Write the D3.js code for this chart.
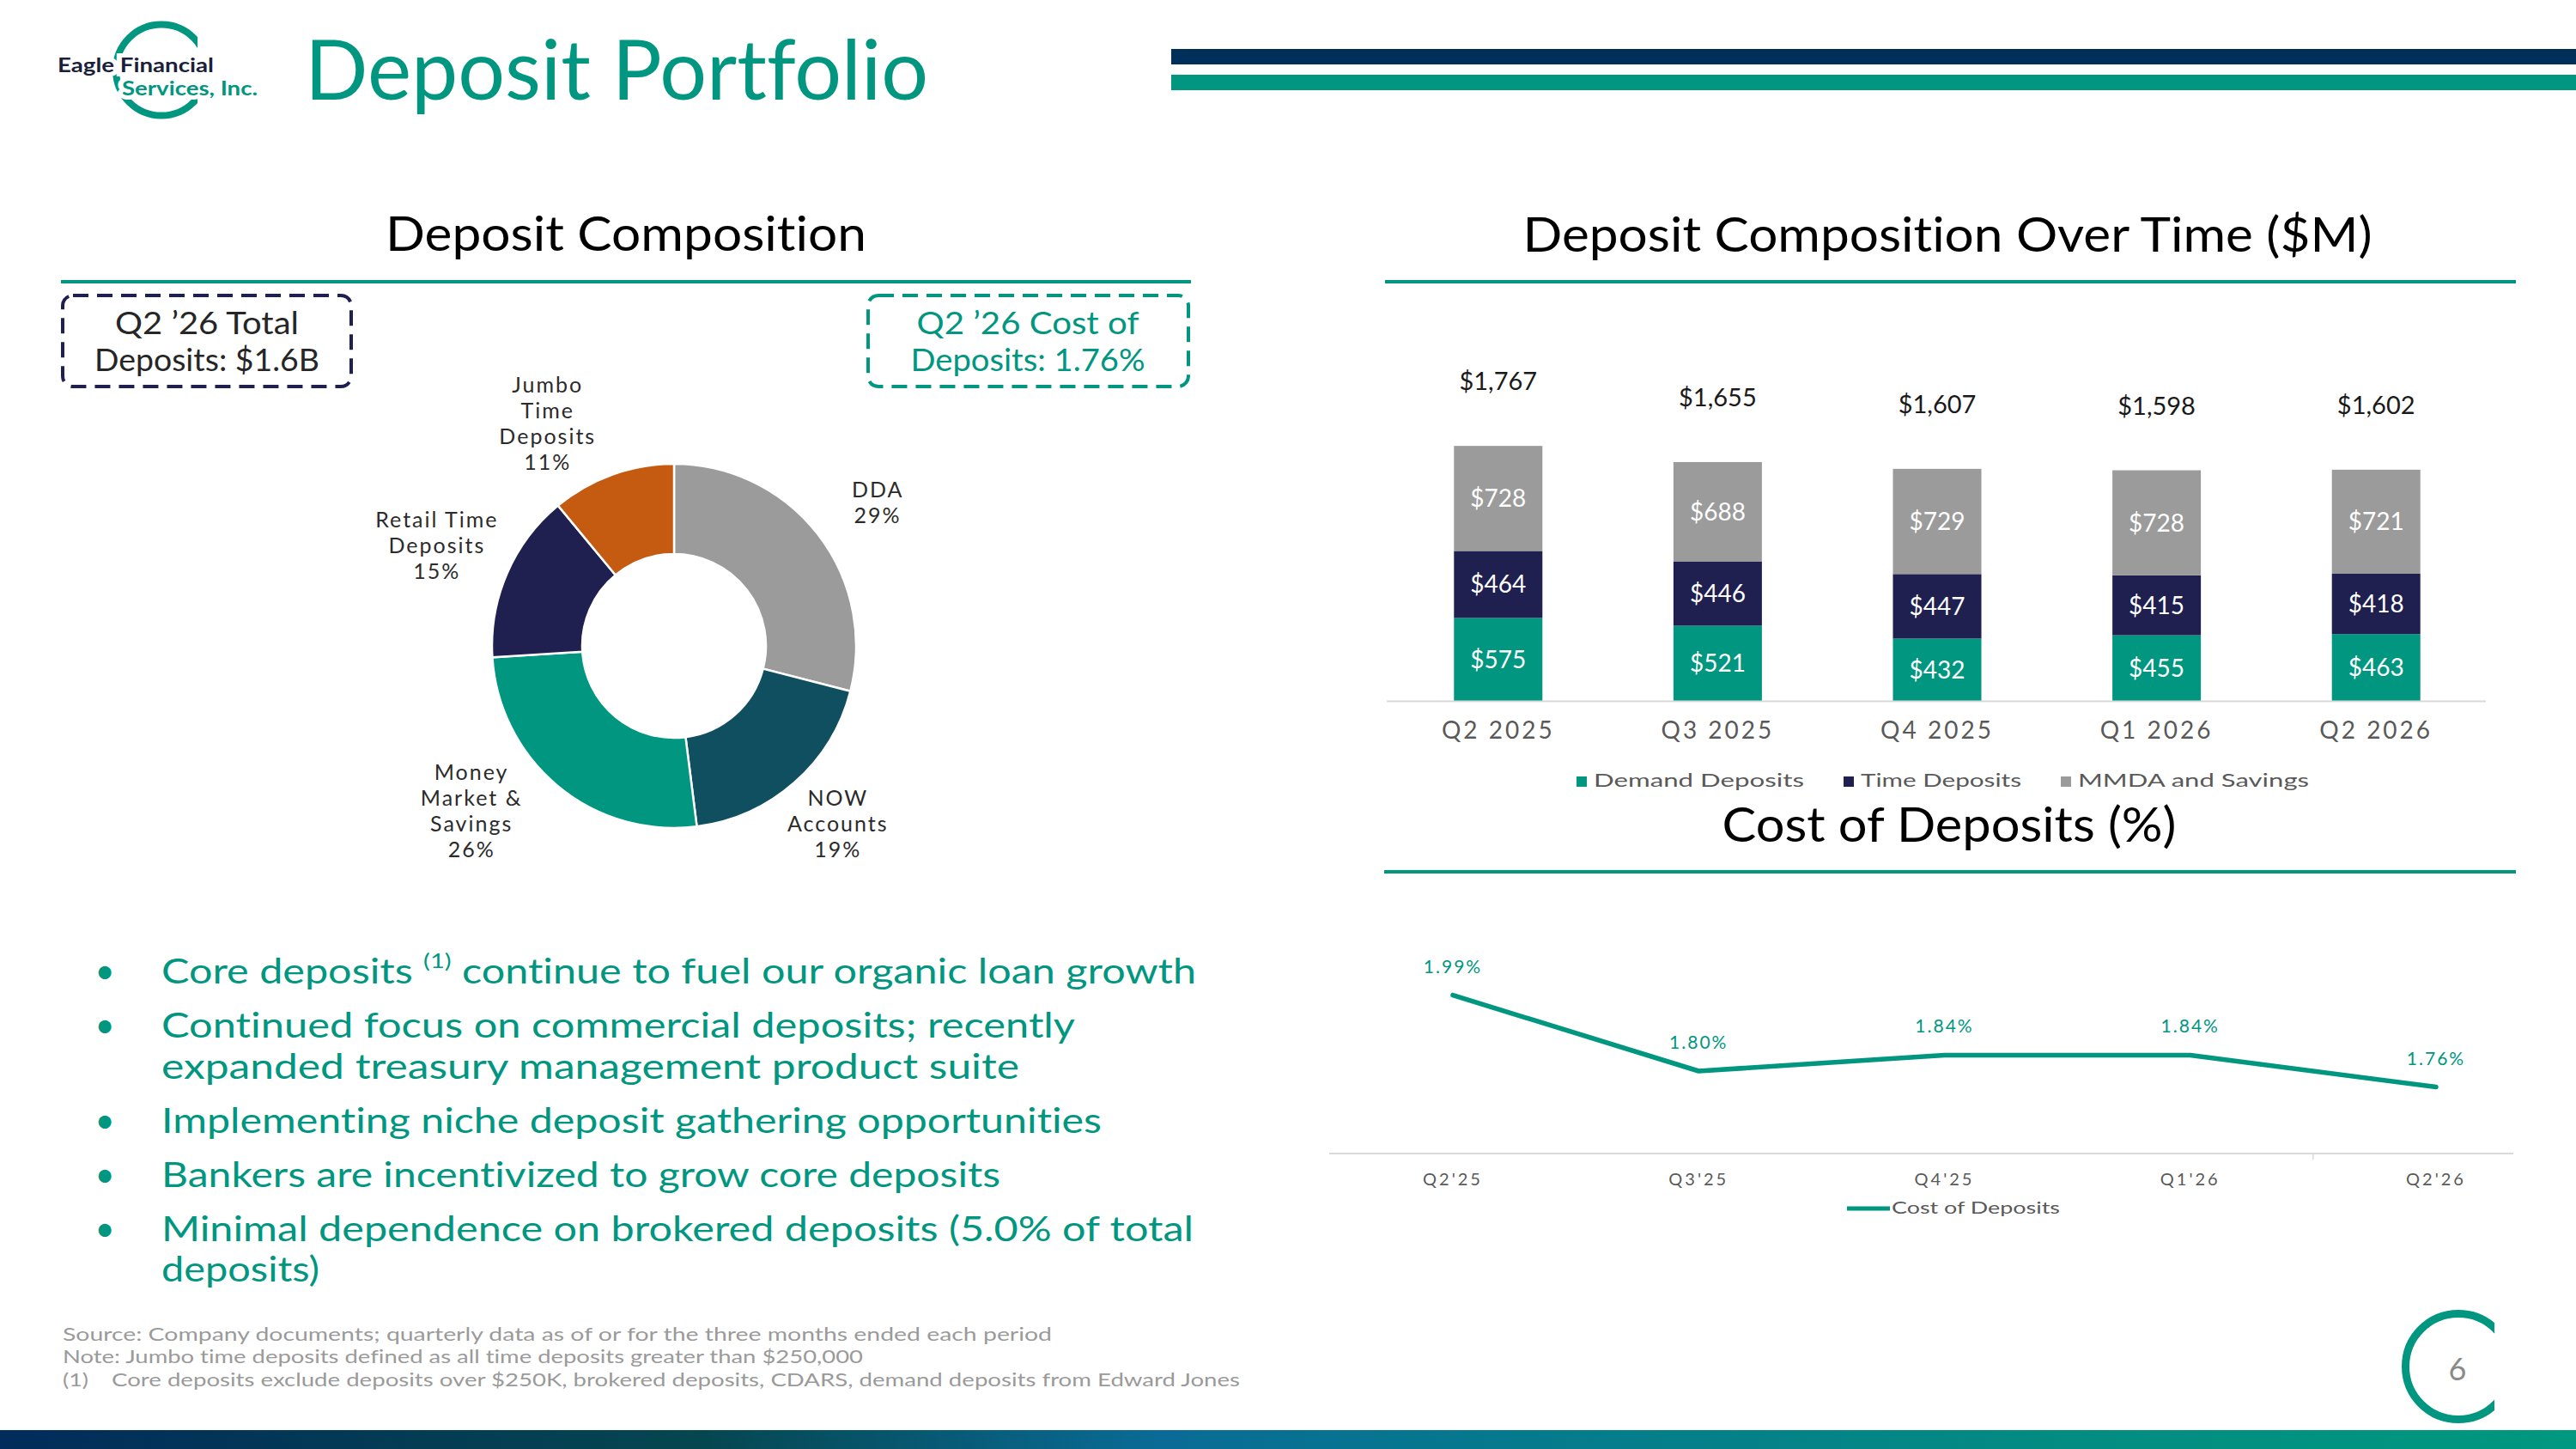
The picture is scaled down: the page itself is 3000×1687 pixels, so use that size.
<!DOCTYPE html>
<html>
<head>
<meta charset="utf-8">
<script src="https://d3js.org/d3.v7.min.js"></script>
<style>
  body { margin: 0; background: #fff; }
  text { font-family: Lato, "Open Sans", sans-serif; font-variant-ligatures: none; }
</style>
</head>
<body>
<svg id="slide" width="3000" height="1687"></svg>
<script>

// ---- data ----
const mixCats = ["DDA", "NOW Accounts", "Money Market & Savings", "Retail Time Deposits", "Jumbo Time Deposits"]
const mixLines = [["DDA"], ["NOW", "Accounts"], ["Money", "Market &", "Savings"], ["Retail Time", "Deposits"], ["Jumbo", "Time", "Deposits"]]
const mixPct = [29, 19, 26, 15, 11]
const mixColors = ["#9b9b9b", "#0f4f5f", "#00967f", "#1f2050", "#c55a11"]

const quarters = ["Q2 2025", "Q3 2025", "Q4 2025", "Q1 2026", "Q2 2026"]
const demand = [575, 521, 432, 455, 463]
const timeDep = [464, 446, 447, 415, 418]
const mmda = [728, 688, 729, 728, 721]
const totals = [1767, 1655, 1607, 1598, 1602]
const seriesNames = ["Demand Deposits", "Time Deposits", "MMDA and Savings"]
const seriesColors = ["#00967f", "#1f2050", "#9b9b9b"]

const costQuarters = ["Q2'25", "Q3'25", "Q4'25", "Q1'26", "Q2'26"]
const cost = [1.99, 1.80, 1.84, 1.84, 1.76]

const bullets = [
    ["Core deposits ", "(1)", " continue to fuel our organic loan growth"],
    ["Continued focus on commercial deposits; recently", "expanded treasury management product suite"],
    ["Implementing niche deposit gathering opportunities"],
    ["Bankers are incentivized to grow core deposits"],
    ["Minimal dependence on brokered deposits (5.0% of total", "deposits)"]
]
const notes = [
    "Source: Company documents; quarterly data as of or for the three months ended each period",
    "Note: Jumbo time deposits defined as all time deposits greater than $250,000",
    "Core deposits exclude deposits over $250K, brokered deposits, CDARS, demand deposits from Edward Jones"
]

const teal = "#00967f"
const navy = "#1f2050"

const svg = d3.select("#slide")

function put(parent, str, x, y, size, fill, opts = {}) {
    const t = parent.append("text").attr("x", x).attr("y", y)
        .attr("font-size", size).attr("fill", fill).text(str)
    if (opts.anchor) t.attr("text-anchor", opts.anchor)
    if (opts.width) t.attr("textLength", opts.width).attr("lengthAdjust", "spacingAndGlyphs")
    if (opts.weight) t.attr("font-weight", opts.weight)
    if (opts.ls) t.attr("letter-spacing", opts.ls)
    return t
}

// ---- header ----
const defs = svg.append("defs")
defs.append("clipPath").attr("id", "logoClip").append("rect")
    .attr("x", 0).attr("y", 0).attr("width", 230).attr("height", 200)
defs.append("clipPath").attr("id", "pageClip").append("rect")
    .attr("x", 2700).attr("y", 1480).attr("width", 205).attr("height", 200)

svg.append("circle").attr("cx", 188).attr("cy", 81.5).attr("r", 53)
    .attr("fill", "none").attr("stroke", teal).attr("stroke-width", 8)
    .attr("clip-path", "url(#logoClip)")
put(svg, "Eagle Financial", 67, 84, 22.5, "#1a1f3c", { width: 182, weight: 700 })
    .attr("stroke", "#fff").attr("stroke-width", 10).attr("paint-order", "stroke")
put(svg, "Services, Inc.", 142, 111, 22.5, teal, { width: 158, weight: 700 })
    .attr("stroke", "#fff").attr("stroke-width", 10).attr("paint-order", "stroke")

put(svg, "Deposit Portfolio", 355, 116, 96, teal, { width: 726 })

svg.append("rect").attr("x", 1364).attr("y", 57).attr("width", 1636).attr("height", 18).attr("fill", "#00305a")
svg.append("rect").attr("x", 1364).attr("y", 87).attr("width", 1636).attr("height", 18).attr("fill", teal)

// ---- section headings ----
put(svg, "Deposit Composition", 729, 292, 56, "#000", { anchor: "middle", width: 560 })
svg.append("rect").attr("x", 71).attr("y", 326).attr("width", 1316).attr("height", 4).attr("fill", teal)
put(svg, "Deposit Composition Over Time ($M)", 2268, 293, 56, "#000", { anchor: "middle", width: 989 })
svg.append("rect").attr("x", 1613).attr("y", 326).attr("width", 1317).attr("height", 4).attr("fill", teal)
put(svg, "Cost of Deposits (%)", 2270, 980, 56, "#000", { anchor: "middle", width: 529 })
svg.append("rect").attr("x", 1612).attr("y", 1013).attr("width", 1318).attr("height", 4).attr("fill", teal)

// ---- callout boxes ----
svg.append("rect").attr("x", 73).attr("y", 344).attr("width", 336).attr("height", 106).attr("rx", 12)
    .attr("fill", "none").attr("stroke", navy).attr("stroke-width", 4).attr("stroke-dasharray", "18 10")
put(svg, "Q2 \u201926 Total", 241, 389, 36, "#262626", { anchor: "middle", width: 214 })
put(svg, "Deposits: $1.6B", 241, 432, 36, "#262626", { anchor: "middle", width: 262 })
svg.append("rect").attr("x", 1011).attr("y", 344).attr("width", 373).attr("height", 106).attr("rx", 12)
    .attr("fill", "none").attr("stroke", teal).attr("stroke-width", 4).attr("stroke-dasharray", "18 10")
put(svg, "Q2 \u201926 Cost of", 1197, 389, 36, teal, { anchor: "middle", width: 259 })
put(svg, "Deposits: 1.76%", 1197, 432, 36, teal, { anchor: "middle", width: 273 })

// ---- donut ----
const donut = svg.append("g").attr("transform", "translate(785,752)")
const pie = d3.pie().sort(null).value(d => d)
const arcs = pie(mixPct)
const arc = d3.arc().innerRadius(107).outerRadius(212)
const labelArc = d3.arc().innerRadius(290).outerRadius(290)
// label nudges (Excel moves outside labels off the radial line to avoid overlaps)
const labelNudge = [[8, 12], [-1, -10], [-51, -30], [-10, -1], [-49, 15]]

donut.selectAll("path.slice").data(arcs).join("path")
    .attr("class", "slice")
    .attr("d", arc)
    .attr("fill", (d, i) => mixColors[i])
    .attr("stroke", "#fff").attr("stroke-width", 2.5)

arcs.forEach((a, i) => {
    const [cx0, cy0] = labelArc.centroid(a)
    const cx = cx0 + labelNudge[i][0], cy = cy0 + labelNudge[i][1]
    const lines = mixLines[i].concat([mixPct[i] + "%"])
    const lh = 30
    const top = cy - (lines.length - 1) * lh / 2 + 8
    lines.forEach((l, j) => {
        put(donut, l, cx, top + j * lh, 25, "#2b2b2b", { anchor: "middle", ls: 2 })
    })
})

// ---- stacked bars ----
const x = d3.scaleBand().domain(quarters).range([1616.6, 2895.4]).paddingInner(0.597).paddingOuter(0.3)
const y = d3.scaleLinear().domain([0, 2000]).range([816, 480])

const rows = quarters.map((q, i) => ({ q, demand: demand[i], time: timeDep[i], mmda: mmda[i] }))
const stack = d3.stack().keys(["demand", "time", "mmda"])(rows)

const bars = svg.append("g")
stack.forEach((layer, k) => {
    bars.selectAll("rect.s" + k).data(layer).join("rect")
        .attr("class", "s" + k)
        .attr("x", d => x(d.data.q))
        .attr("y", d => y(d[1]))
        .attr("width", x.bandwidth())
        .attr("height", d => y(d[0]) - y(d[1]))
        .attr("fill", seriesColors[k])
    layer.forEach(d => {
        put(bars, "$" + (d[1] - d[0]), x(d.data.q) + x.bandwidth() / 2, (y(d[0]) + y(d[1])) / 2 + 10,
            28, "#fff", { anchor: "middle" })
    })
})
totals.forEach((t, i) => {
    put(bars, "$" + d3.format(",")(t), x(quarters[i]) + x.bandwidth() / 2, y(t) - 65, 29, "#1a1a1a",
        { anchor: "middle" })
})
svg.append("line").attr("x1", 1615).attr("x2", 2895).attr("y1", 816.5).attr("y2", 816.5)
    .attr("stroke", "#d9d9d9").attr("stroke-width", 2)
quarters.forEach(q => {
    put(svg, q, x(q) + x.bandwidth() / 2, 860, 28, "#595959", { anchor: "middle", ls: 3 })
})

// legend
const legWidths = [245, 187, 269]
let lx = 1836
seriesNames.forEach((s, i) => {
    svg.append("rect").attr("x", lx).attr("y", 904).attr("width", 12).attr("height", 12).attr("fill", seriesColors[i])
    put(svg, s, lx + 20, 916, 22, "#595959", { width: legWidths[i] })
    lx += 20 + legWidths[i] + 46
})

// ---- cost of deposits line ----
const xc = d3.scalePoint().domain(costQuarters).range([1692, 2837])
const yc = d3.scaleLinear().domain([1.6, 2.0]).range([1340, 1154])

svg.append("line").attr("x1", 1548).attr("x2", 2927).attr("y1", 1343).attr("y2", 1343)
    .attr("stroke", "#d9d9d9").attr("stroke-width", 2)
const mid = (xc(costQuarters[3]) + xc(costQuarters[4])) / 2
svg.append("line").attr("x1", mid).attr("x2", mid).attr("y1", 1343).attr("y2", 1350)
    .attr("stroke", "#d9d9d9").attr("stroke-width", 1.5)

svg.append("path").datum(cost)
    .attr("d", d3.line().x((d, i) => xc(costQuarters[i])).y(d => yc(d)))
    .attr("fill", "none").attr("stroke", teal).attr("stroke-width", 5.5)
    .attr("stroke-linejoin", "round").attr("stroke-linecap", "round")

cost.forEach((v, i) => {
    put(svg, v.toFixed(2) + "%", xc(costQuarters[i]), yc(v) - 26, 21, teal, { anchor: "middle", ls: 2 })
})
costQuarters.forEach(q => {
    put(svg, q, xc(q), 1380, 20, "#595959", { anchor: "middle", ls: 3 })
})
svg.append("line").attr("x1", 2151).attr("x2", 2201).attr("y1", 1407).attr("y2", 1407)
    .attr("stroke", teal).attr("stroke-width", 5)
put(svg, "Cost of Deposits", 2203, 1413, 20, "#595959", { width: 196 })

// ---- bullets ----
const bulletWidths = [[1205], [1064, 999], [1095], [977], [1202, 184]]
let by = 1145
bullets.forEach((b, i) => {
    put(svg, "\u2022", 122, by, 40, teal, { anchor: "middle" })
    if (i === 0) {
        const t = put(svg, "", 188, by, 40, teal, { width: bulletWidths[0][0] })
        t.append("tspan").text(b[0])
        t.append("tspan").attr("font-size", 24).attr("dy", -18).text(b[1])
        t.append("tspan").attr("dy", 18).text(b[2])
        by += 63
    } else {
        b.forEach((line, j) => {
            put(svg, line, 188, by, 40, teal, { width: bulletWidths[i][j] })
            by += j < b.length - 1 ? 47.5 : 63
        })
    }
})

// ---- footnotes ----
put(svg, notes[0], 73, 1561, 21, "#9a9a9a", { width: 1152 })
put(svg, notes[1], 73, 1587, 21, "#9a9a9a", { width: 932 })
put(svg, "(1)", 73, 1614, 21, "#9a9a9a", { width: 30 })
put(svg, notes[2], 130, 1614, 21, "#9a9a9a", { width: 1314 })

// ---- page number ----
svg.append("circle").attr("cx", 2863).attr("cy", 1591).attr("r", 61.5)
    .attr("fill", "none").attr("stroke", teal).attr("stroke-width", 9)
    .attr("clip-path", "url(#pageClip)")
put(svg, "6", 2862, 1607, 36, "#8a8a8a", { anchor: "middle" })

// ---- footer band ----
const grad = defs.append("linearGradient").attr("id", "band").attr("x1", "0").attr("x2", "1").attr("y1", "0").attr("y2", "0")
const stops = [[0, "#012c5b"], [0.27, "#05464f"], [0.45, "#0a6b96"], [0.55, "#06768f"], [0.8, "#038c82"], [1, "#00987e"]]
stops.forEach(s => grad.append("stop").attr("offset", s[0]).attr("stop-color", s[1]))
svg.append("rect").attr("x", 0).attr("y", 1665).attr("width", 3000).attr("height", 22).attr("fill", "url(#band)")

</script>
</body>
</html>
